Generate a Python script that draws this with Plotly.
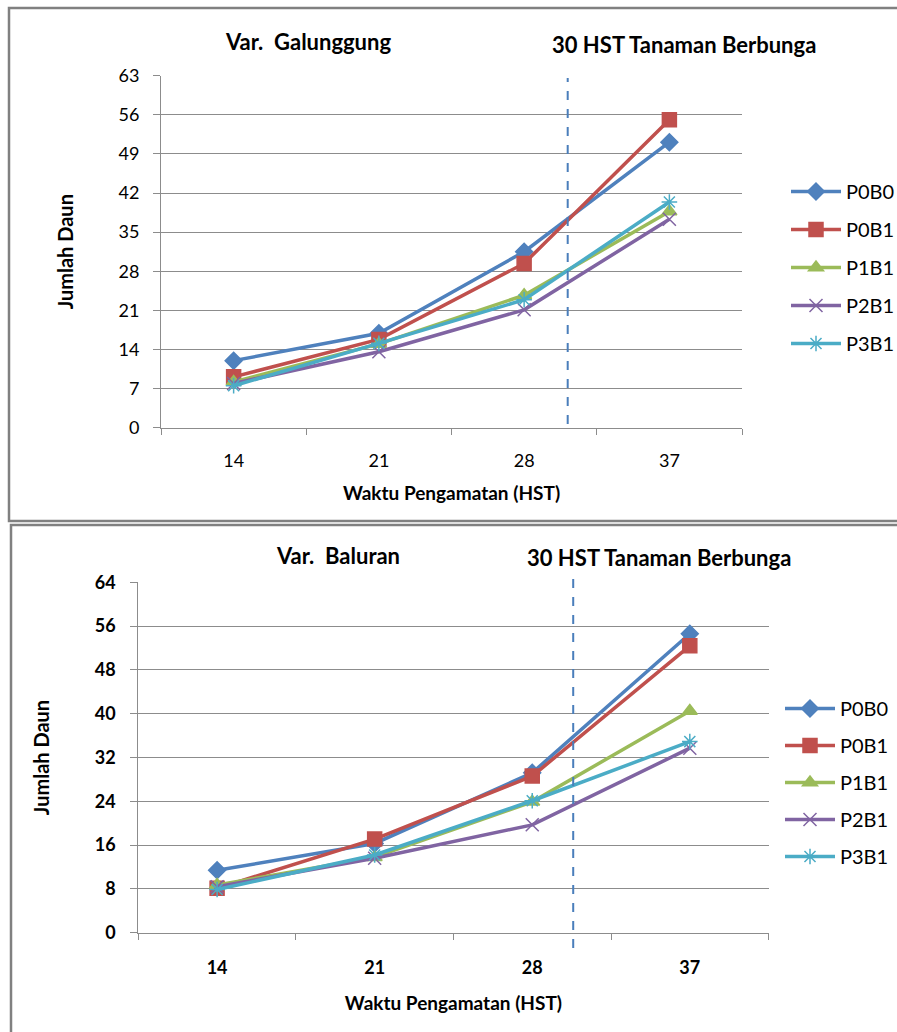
import plotly.graph_objects as go

days = ["14", "21", "28", "37"]
series_names = ["P0B0", "P0B1", "P1B1", "P2B1", "P3B1"]

galunggung = {
    "P0B0": [12.0, 16.9, 31.5, 51.1],
    "P0B1": [9.1, 15.8, 29.4, 55.1],
    "P1B1": [8.2, 15.0, 23.7, 38.7],
    "P2B1": [7.9, 13.6, 21.1, 37.3],
    "P3B1": [7.5, 15.1, 22.9, 40.4],
}
baluran = {
    "P0B0": [11.4, 16.3, 29.2, 54.6],
    "P0B1": [8.1, 17.1, 28.6, 52.4],
    "P1B1": [8.7, 13.8, 23.9, 40.5],
    "P2B1": [8.4, 13.6, 19.7, 33.7],
    "P3B1": [7.9, 14.2, 24.1, 34.9],
}
top_ticks = [0, 7, 14, 21, 28, 35, 42, 49, 56, 63]
bottom_ticks = [0, 8, 16, 24, 32, 40, 48, 56, 64]

colors = ["#4F81BD", "#C0504D", "#9BBB59", "#8064A2", "#4BACC6"]
symbols = ["diamond", "square", "triangle-up", "x-thin-open", "asterisk-open"]
msizes = [13, 14, 13, 13, 13]

W, H = 897, 1032
FONT = "Lato"

fig = go.Figure()

def px_x(p):
    return p / W

def px_y(p):
    return 1 - p / H

for idx, (data, xa, ya, lg) in enumerate([(galunggung, "x", "y", "legend"), (baluran, "x2", "y2", "legend2")]):
    for i, name in enumerate(series_names):
        fig.add_trace(go.Scatter(
            x=days, y=data[name], name=name, mode="lines+markers",
            xaxis=xa, yaxis=ya, legend=lg, legendgroup=f"{lg}_{name}",
            line=dict(color=colors[i], width=3.5),
            marker=dict(symbol=symbols[i], size=msizes[i], color=colors[i],
                        line=dict(color=colors[i], width=1.5)),
        ))

grid = "#8C8C8C"
common_x = dict(type="category", showline=True, linecolor=grid, linewidth=1,
                ticks="outside", tickson="boundaries", ticklen=6, tickcolor=grid,
                showgrid=False, range=[-0.5, 3.5], zeroline=False, automargin=False)
common_y = dict(showline=True, linecolor=grid, linewidth=1, ticks="outside",
                ticklen=7, tickcolor=grid, showgrid=True, gridcolor=grid,
                gridwidth=1, zeroline=False, automargin=False)

fig.update_layout(
    width=W, height=H, margin=dict(l=0, r=0, t=0, b=0, autoexpand=False),
    paper_bgcolor="white", plot_bgcolor="white",
    font=dict(family=FONT, color="#000000"),
    xaxis=dict(domain=[px_x(161), px_x(742)], anchor="y",
               tickfont=dict(size=18, family=FONT), ticklabelstandoff=17,
               title=dict(text="<b>Waktu Pengamatan (HST)</b>", font=dict(size=19), standoff=16),
               **common_x),
    yaxis=dict(domain=[px_y(427.7), px_y(75.7)], anchor="x", range=[0, 63],
               tickvals=top_ticks, tickfont=dict(size=18, family=FONT), ticklabelstandoff=10,
               title=dict(text="<b>Jumlah Daun</b>", font=dict(size=20), standoff=39),
               **common_y),
    xaxis2=dict(domain=[px_x(138.3), px_x(768.6)], anchor="y2",
                tickfont=dict(size=18, family=FONT, weight="bold"), ticklabelstandoff=19,
                title=dict(text="<b>Waktu Pengamatan (HST)</b>", font=dict(size=19), standoff=19),
                **common_x),
    yaxis2=dict(domain=[px_y(932.7), px_y(582.3)], anchor="x2", range=[0, 64],
                tickvals=bottom_ticks, tickfont=dict(size=18, family=FONT, weight="bold"), ticklabelstandoff=11,
                title=dict(text="<b>Jumlah Daun</b>", font=dict(size=20), standoff=39),
                **common_y),
    legend=dict(x=px_x(786), y=px_y(172), xanchor="left", yanchor="top",
                font=dict(size=20, family=FONT), tracegroupgap=9, itemwidth=50,
                bgcolor="rgba(0,0,0,0)"),
    legend2=dict(x=px_x(780), y=px_y(689), xanchor="left", yanchor="top",
                 font=dict(size=20, family=FONT), tracegroupgap=8, itemwidth=50,
                 bgcolor="rgba(0,0,0,0)"),
    showlegend=True,
)

# chart frames
fig.add_shape(type="rect", xref="paper", yref="paper",
              x0=px_x(9), x1=px_x(905), y0=px_y(521), y1=px_y(8),
              line=dict(color="#808080", width=2.5), layer="below")
fig.add_shape(type="rect", xref="paper", yref="paper",
              x0=px_x(11), x1=px_x(905), y0=px_y(1040), y1=px_y(525),
              line=dict(color="#808080", width=2.5), layer="below")

# flowering marker lines (30 HST)
fig.add_shape(type="line", xref="x", yref="paper", x0=2.3, x1=2.3,
              y0=px_y(424), y1=px_y(78),
              line=dict(color="#4A7EBB", width=2, dash="dash"))
fig.add_shape(type="line", xref="x2", yref="paper", x0=2.26, x1=2.26,
              y0=px_y(948), y1=px_y(575),
              line=dict(color="#4A7EBB", width=2, dash="dash"))

# annotations
ann = [
    ("<b>Var.  Galunggung</b>", 308, 42),
    ("<b>30 HST Tanaman Berbunga</b>", 684, 45),
    ("<b>Var.  Baluran</b>", 338, 555),
    ("<b>30 HST Tanaman Berbunga</b>", 659, 557),
]
for text, ax, ay in ann:
    fig.add_annotation(text=text, xref="paper", yref="paper", x=px_x(ax), y=px_y(ay),
                       showarrow=False, font=dict(size=22, family=FONT),
                       xanchor="center", yanchor="middle")

fig.write_html("out.html")
